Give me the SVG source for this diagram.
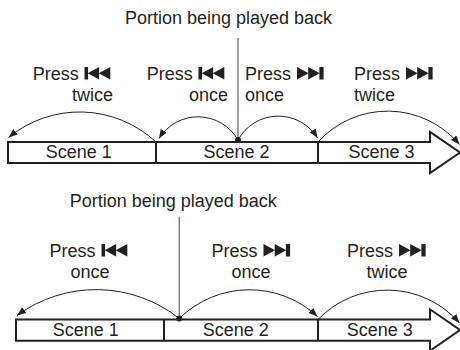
<svg xmlns="http://www.w3.org/2000/svg" xmlns:xlink="http://www.w3.org/1999/xlink" width="460" height="350" viewBox="0 0 460 350">
<style>
text{font-family:"Liberation Sans",Arial,sans-serif;font-size:18px;fill:#231f20}
.bar{fill:#fff;stroke:#231f20;stroke-width:2;stroke-linejoin:miter}
.div{stroke:#231f20;stroke-width:2}
.arc{fill:none;stroke:#231f20;stroke-width:1}
.ptr{stroke:#808080;stroke-width:1.5}
.icon{fill:#231f20}
</style>
<defs>
<marker id="ah" markerUnits="userSpaceOnUse" markerWidth="10" markerHeight="8" refX="9" refY="3.5" orient="auto">
<path d="M0,0 L9,3.5 L0,7 z" fill="#231f20"/>
</marker>
<g id="prev" class="icon">
<rect x="0" y="0" width="3.6" height="12.5"/>
<polygon points="3.2,6.25 14.6,0 14.6,12.5"/>
<polygon points="14.2,6.25 25.8,0 25.8,12.5"/>
</g>
<g id="next" class="icon">
<polygon points="0,0 11.6,6.25 0,12.5"/>
<polygon points="11.2,0 22.8,6.25 11.2,12.5"/>
<rect x="22.4" y="0" width="4.2" height="12.5"/>
</g>
</defs>

<g id="top-strip">
<polygon class="bar" points="8,142 430,142 430,132 460,152.5 430,173 430,163 8,163"/>
<line class="div" x1="156" y1="142" x2="156" y2="163"/>
<line class="div" x1="318" y1="142" x2="318" y2="163"/>
</g>
<g id="top-scene1"><text x="78.7" y="158" text-anchor="middle">Scene 1</text></g>
<g id="top-scene2"><text x="236.5" y="158" text-anchor="middle">Scene 2</text></g>
<g id="top-scene3"><text x="381.5" y="158" text-anchor="middle">Scene 3</text></g>

<g id="top-portion"><text x="228.5" y="24" text-anchor="middle">Portion being played back</text></g>
<g id="top-prev-twice">
<text x="32.7" y="79.5">Press</text><use xlink:href="#prev" x="84.5" y="67"/>
<text x="113" y="101" text-anchor="end">twice</text>
</g>
<g id="top-prev-once">
<text x="146.7" y="79.5">Press</text><use xlink:href="#prev" x="198.5" y="67"/>
<text x="228" y="101" text-anchor="end">once</text>
</g>
<g id="top-next-once">
<text x="245" y="79.5">Press</text><use xlink:href="#next" x="297" y="67"/>
<text x="245" y="101">once</text>
</g>
<g id="top-next-twice">
<text x="354" y="79.5">Press</text><use xlink:href="#next" x="406" y="67"/>
<text x="354" y="101">twice</text>
</g>

<g id="bottom-strip">
<polygon class="bar" points="16,319.5 430,319.5 430,309.3 460,330 430,350.7 430,340.7 16,340.7"/>
<line class="div" x1="164" y1="319.5" x2="164" y2="340.7"/>
<line class="div" x1="318" y1="319.5" x2="318" y2="340.7"/>
</g>
<g id="bottom-scene1"><text x="85.8" y="336" text-anchor="middle">Scene 1</text></g>
<g id="bottom-scene2"><text x="235.8" y="336" text-anchor="middle">Scene 2</text></g>
<g id="bottom-scene3"><text x="379.7" y="336" text-anchor="middle">Scene 3</text></g>

<g id="bottom-portion"><text x="173.3" y="207" text-anchor="middle">Portion being played back</text></g>
<g id="bottom-prev-once">
<text x="49.5" y="256.5">Press</text><use xlink:href="#prev" x="101.5" y="244"/>
<text x="90" y="278" text-anchor="middle">once</text>
</g>
<g id="bottom-next-once">
<text x="211.5" y="256.5">Press</text><use xlink:href="#next" x="263.5" y="244"/>
<text x="251" y="278" text-anchor="middle">once</text>
</g>
<g id="bottom-next-twice">
<text x="347" y="256.5">Press</text><use xlink:href="#next" x="399" y="244"/>
<text x="387" y="278" text-anchor="middle">twice</text>
</g>

<g id="connectors">
<line class="ptr" x1="238" y1="38" x2="238" y2="140"/>
<circle cx="238" cy="140" r="3" fill="#231f20"/>
<path class="arc" marker-end="url(#ah)" d="M156,142 A112,112 0 0 0 8.5,137.5"/>
<path class="arc" marker-end="url(#ah)" d="M238,140 A46,46 0 0 0 159,138.5"/>
<path class="arc" marker-end="url(#ah)" d="M238,140 A46,46 0 0 1 317.5,138"/>
<path class="arc" marker-end="url(#ah)" d="M318,142 A94,94 0 0 1 459.5,144.5"/>

<line class="ptr" x1="179.3" y1="216.7" x2="179.3" y2="318"/>
<circle cx="179.3" cy="318.5" r="3" fill="#231f20"/>
<path class="arc" marker-end="url(#ah)" d="M179.3,318.5 A134,134 0 0 0 17,315.5"/>
<path class="arc" marker-end="url(#ah)" d="M179.3,318.5 A100,100 0 0 1 317.5,316.5"/>
<path class="arc" marker-end="url(#ah)" d="M318,319.5 A96,96 0 0 1 459.5,323"/>
</g>
</svg>
